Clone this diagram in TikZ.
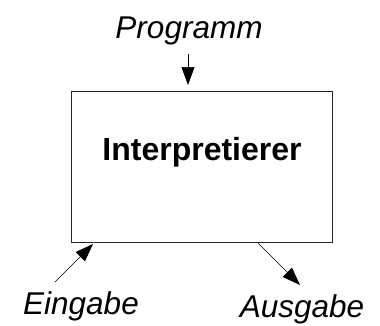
\documentclass[tikz,border=0pt]{standalone}
\usepackage{fontspec}
\setmainfont{Liberation Sans}
\usetikzlibrary{arrows.meta}
\begin{document}
\begin{tikzpicture}[x=1pt,y=1pt]
        \tikzstyle{label}=[font=\fontsize{31.5}{37}\selectfont\itshape,anchor=base,inner sep=0pt]
        \tikzstyle{machine}=[draw=black!85,line width=0.9pt,minimum width=261pt,minimum height=151pt,inner sep=0pt]
        \tikzstyle{flow}=[draw,line width=0.7pt,-{Triangle[length=18pt,width=13pt]}]
       \useasboundingbox (0,0) rectangle (380,325);
       \begin{scope}
         \node [machine] (box) at (201.5,158.5) {};
         \node [font=\fontsize{32}{38}\selectfont\bfseries,anchor=base,inner sep=0pt] (interp) at (202,165) {Interpretierer};
         \node [label] (prog) at (189,287) {Programm};
         \node [label] (ein) at (81,11) {Eingabe};
         \node [label] (aus) at (302,7.5) {Ausgabe};
         \coordinate (progtail) at (188,271);
         \coordinate (progtip) at (188,240);
         \coordinate (eintail) at (55,43);
         \coordinate (eintip) at (93,81);
         \coordinate (austail) at (258,82);
         \coordinate (austip) at (300,40);
         \path[flow] (progtail) -- (progtip);
         \path[flow] (eintail) -- (eintip);
         \path[flow] (austail) -- (austip);
        \end{scope}
      \end{tikzpicture}
\end{document}
